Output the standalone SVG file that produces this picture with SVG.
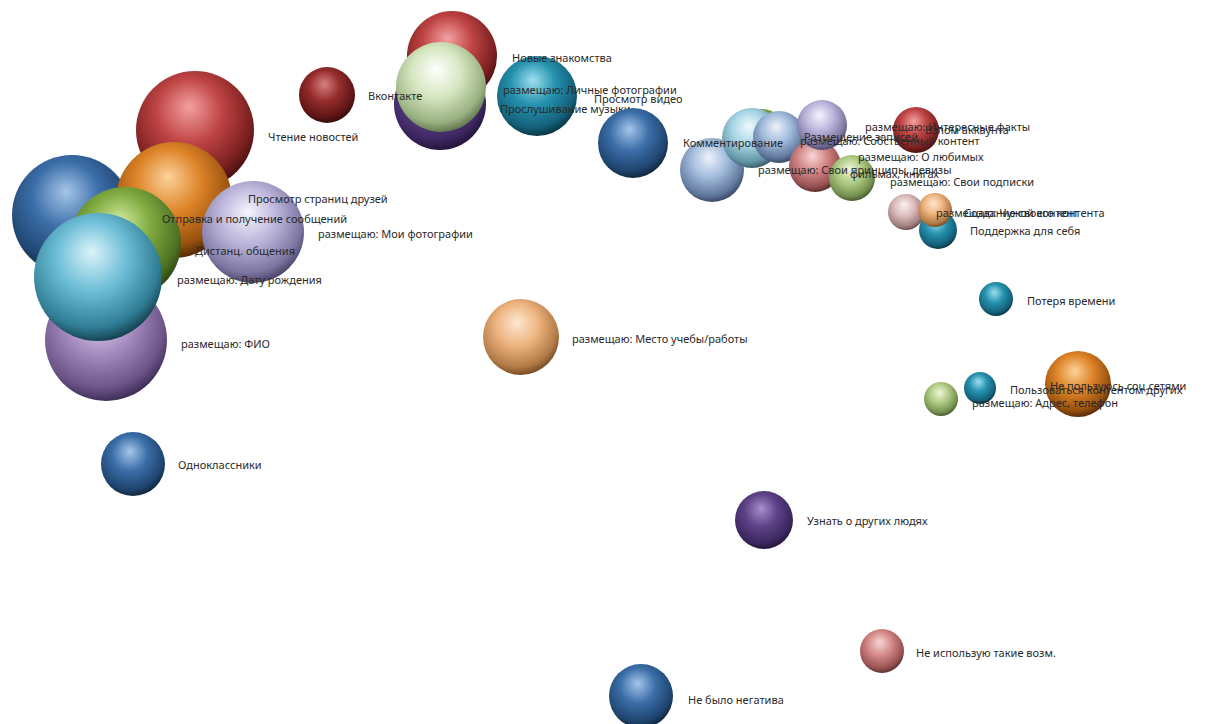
<svg xmlns="http://www.w3.org/2000/svg" width="1208" height="724" viewBox="0 0 1208 724">
<defs>
<radialGradient id="gRed" cx="0.45" cy="0.38" r="0.62" fx="0.45" fy="0.3"><stop offset="0" stop-color="#f4a0a0"/><stop offset="0.45" stop-color="#bf4444"/><stop offset="0.85" stop-color="#7a1f1f"/><stop offset="1" stop-color="#4a1010"/></radialGradient>
<radialGradient id="gDarkRed" cx="0.45" cy="0.38" r="0.62" fx="0.45" fy="0.3"><stop offset="0" stop-color="#d88080"/><stop offset="0.45" stop-color="#962c2c"/><stop offset="0.85" stop-color="#5e1616"/><stop offset="1" stop-color="#3a0a0a"/></radialGradient>
<radialGradient id="gBlue" cx="0.45" cy="0.38" r="0.62" fx="0.45" fy="0.3"><stop offset="0" stop-color="#a6c6ea"/><stop offset="0.45" stop-color="#3b6ea8"/><stop offset="0.85" stop-color="#1f4570"/><stop offset="1" stop-color="#12283f"/></radialGradient>
<radialGradient id="gOrange" cx="0.45" cy="0.38" r="0.62" fx="0.45" fy="0.3"><stop offset="0" stop-color="#fbd29a"/><stop offset="0.45" stop-color="#de8428"/><stop offset="0.85" stop-color="#9a520e"/><stop offset="1" stop-color="#5a2e06"/></radialGradient>
<radialGradient id="gGreen" cx="0.45" cy="0.38" r="0.62" fx="0.45" fy="0.3"><stop offset="0" stop-color="#d2eaa0"/><stop offset="0.45" stop-color="#80ab40"/><stop offset="0.85" stop-color="#4e7222"/><stop offset="1" stop-color="#2e4612"/></radialGradient>
<radialGradient id="gLav" cx="0.45" cy="0.38" r="0.62" fx="0.45" fy="0.3"><stop offset="0" stop-color="#f6f4fc"/><stop offset="0.45" stop-color="#bdb6dc"/><stop offset="0.85" stop-color="#7d76a2"/><stop offset="1" stop-color="#4e486e"/></radialGradient>
<radialGradient id="gCyan" cx="0.45" cy="0.38" r="0.62" fx="0.45" fy="0.3"><stop offset="0" stop-color="#dcf4fa"/><stop offset="0.45" stop-color="#6cbdd6"/><stop offset="0.85" stop-color="#307e96"/><stop offset="1" stop-color="#174555"/></radialGradient>
<radialGradient id="gPurple" cx="0.45" cy="0.38" r="0.62" fx="0.45" fy="0.3"><stop offset="0" stop-color="#e6dcf0"/><stop offset="0.45" stop-color="#a68cc0"/><stop offset="0.85" stop-color="#6c5388"/><stop offset="1" stop-color="#40305a"/></radialGradient>
<radialGradient id="gPaleGreen" cx="0.45" cy="0.38" r="0.62" fx="0.45" fy="0.3"><stop offset="0" stop-color="#ffffff"/><stop offset="0.45" stop-color="#d6e6c0"/><stop offset="0.85" stop-color="#98b080"/><stop offset="1" stop-color="#667a52"/></radialGradient>
<radialGradient id="gDarkPurple" cx="0.45" cy="0.38" r="0.62" fx="0.45" fy="0.3"><stop offset="0" stop-color="#a88fcc"/><stop offset="0.45" stop-color="#5f4288"/><stop offset="0.85" stop-color="#3c2760"/><stop offset="1" stop-color="#24163c"/></radialGradient>
<radialGradient id="gTeal" cx="0.45" cy="0.38" r="0.62" fx="0.45" fy="0.3"><stop offset="0" stop-color="#9ee0ef"/><stop offset="0.45" stop-color="#2592ae"/><stop offset="0.85" stop-color="#14607a"/><stop offset="1" stop-color="#0a3846"/></radialGradient>
<radialGradient id="gLightBlue" cx="0.45" cy="0.38" r="0.62" fx="0.45" fy="0.3"><stop offset="0" stop-color="#eef3fa"/><stop offset="0.45" stop-color="#a2bcdc"/><stop offset="0.85" stop-color="#62799e"/><stop offset="1" stop-color="#3c4c6a"/></radialGradient>
<radialGradient id="gLightCyan" cx="0.45" cy="0.38" r="0.62" fx="0.45" fy="0.3"><stop offset="0" stop-color="#f0fafd"/><stop offset="0.45" stop-color="#a8d6e6"/><stop offset="0.85" stop-color="#6496a8"/><stop offset="1" stop-color="#3c6070"/></radialGradient>
<radialGradient id="gPink" cx="0.45" cy="0.38" r="0.62" fx="0.45" fy="0.3"><stop offset="0" stop-color="#f8d6d6"/><stop offset="0.45" stop-color="#d48888"/><stop offset="0.85" stop-color="#985252"/><stop offset="1" stop-color="#603030"/></radialGradient>
<radialGradient id="gPinkPale" cx="0.45" cy="0.38" r="0.62" fx="0.45" fy="0.3"><stop offset="0" stop-color="#fbf2f2"/><stop offset="0.45" stop-color="#dcbcbc"/><stop offset="0.85" stop-color="#a08080"/><stop offset="1" stop-color="#6e5252"/></radialGradient>
<radialGradient id="gPeach" cx="0.45" cy="0.38" r="0.62" fx="0.45" fy="0.3"><stop offset="0" stop-color="#fde8d2"/><stop offset="0.45" stop-color="#eeb480"/><stop offset="0.85" stop-color="#b27a46"/><stop offset="1" stop-color="#7a4e26"/></radialGradient>
<radialGradient id="gLightGreen" cx="0.45" cy="0.38" r="0.62" fx="0.45" fy="0.3"><stop offset="0" stop-color="#eef6dc"/><stop offset="0.45" stop-color="#b0cc84"/><stop offset="0.85" stop-color="#749050"/><stop offset="1" stop-color="#4a5e30"/></radialGradient>
</defs>
<style>
text{font-family:"Noto Sans","Open Sans","DejaVu Sans",sans-serif;font-size:11px;fill:#2a2a2a}
</style>
<rect width="1208" height="724" fill="#ffffff"/>
<g id="connectors"/>

<g id="n-chtenie"><circle cx="195" cy="130" r="59" fill="url(#gRed)"/><text x="268" y="141">Чтение новостей</text></g>
<g id="n-bigblue"><circle cx="72" cy="215" r="60" fill="url(#gBlue)"/></g>
<g id="n-fio"><circle cx="106" cy="340" r="61" fill="url(#gPurple)"/><text x="181" y="348">размещаю: ФИО</text></g>
<g id="n-orange"><circle cx="174" cy="200" r="58" fill="url(#gOrange)"/></g>
<g id="n-druzey"><circle cx="253" cy="232" r="51" fill="url(#gLav)"/><text x="248" y="203">Просмотр страниц друзей</text><text x="318" y="238">размещаю: Мои фотографии</text></g>
<g id="n-green"><circle cx="125" cy="243" r="56" fill="url(#gGreen)"/><text x="162" y="223">Отправка и получение сообщений</text><text x="195" y="255">Дистанц. общения</text></g>
<g id="n-cyan"><circle cx="98" cy="277" r="64" fill="url(#gCyan)"/><text x="177" y="284">размещаю: Дату рождения</text></g>

<g id="n-red-top"><circle cx="452" cy="56" r="45" fill="url(#gRed)"/></g>
<g id="n-darkpurple"><circle cx="440" cy="104" r="46" fill="url(#gDarkPurple)"/></g>
<g id="n-palegreen"><circle cx="441" cy="87" r="45" fill="url(#gPaleGreen)"/></g>
<g id="n-vkontakte"><circle cx="327" cy="95" r="28" fill="url(#gDarkRed)"/><text x="368" y="100">Вконтакте</text></g>
<g id="n-muzyka"><circle cx="537" cy="96" r="40" fill="url(#gTeal)"/><text x="512" y="62">Новые знакомства</text><text x="503" y="94">размещаю: Личные фотографии</text><text x="594" y="103">Просмотр видео</text><text x="500" y="113">Прослушивание музыки</text></g>
<g id="n-video"><circle cx="633" cy="143" r="35" fill="url(#gBlue)"/></g>

<g id="n-greenback"><circle cx="762" cy="132" r="23" fill="url(#gGreen)"/></g>
<g id="n-komment"><circle cx="712" cy="170" r="32" fill="url(#gLightBlue)"/></g>
<g id="n-lightcyan"><circle cx="752" cy="138" r="30" fill="url(#gLightCyan)"/></g>
<g id="n-lavblue"><circle cx="779" cy="137" r="26" fill="url(#gLightBlue)"/></g>
<g id="n-pink"><circle cx="815" cy="166" r="26" fill="url(#gPink)"/></g>
<g id="n-lavender"><circle cx="822" cy="125" r="25" fill="url(#gLav)"/></g>
<g id="n-lightgreen"><circle cx="852" cy="178" r="23" fill="url(#gLightGreen)"/></g>
<g id="n-red2"><circle cx="916" cy="130" r="23" fill="url(#gRed)"/></g>
<g id="n-cluster-labels">
<text x="683" y="147">Комментирование</text>
<text x="865" y="131">размещаю: Интересные факты</text>
<text x="925" y="134">Взлом аккаунта</text>
<text x="804" y="141">Размещение записей</text>
<text x="800" y="145">размещаю: Собственный контент</text>
<text x="858" y="161">размещаю: О любимых</text>
<text x="758" y="174">размещаю: Свои принципы, девизы</text>
<text x="850" y="178">фильмах, книгах</text>
<text x="890" y="186">размещаю: Свои подписки</text>
</g>

<g id="n-pinkpale"><circle cx="906" cy="212" r="18" fill="url(#gPinkPale)"/></g>
<g id="n-podderzhka"><circle cx="938" cy="230" r="19" fill="url(#gTeal)"/><text x="970" y="235">Поддержка для себя</text></g>
<g id="n-peach"><circle cx="935" cy="210" r="17" fill="url(#gPeach)"/><text x="936" y="217">размещаю: Чужой контент</text><text x="964" y="217">Создание своего контента</text></g>

<g id="n-poterya"><circle cx="996" cy="299" r="17" fill="url(#gTeal)"/><text x="1027" y="305">Потеря времени</text></g>
<g id="n-lightgreen2"><circle cx="941" cy="399" r="17" fill="url(#gLightGreen)"/></g>
<g id="n-teal2"><circle cx="980" cy="388" r="16" fill="url(#gTeal)"/></g>
<g id="n-nepolzuyus"><circle cx="1078" cy="384" r="33" fill="url(#gOrange)"/><text x="1050" y="390">Не пользуюсь соц.сетями</text><text x="1010" y="394">Пользоваться контентом других</text><text x="972" y="407">размещаю: Адрес, телефон</text></g>

<g id="n-mesto"><circle cx="521" cy="337" r="38" fill="url(#gPeach)"/><text x="572" y="343">размещаю: Место учебы/работы</text></g>
<g id="n-odnoklassniki"><circle cx="133" cy="464" r="32" fill="url(#gBlue)"/><text x="178" y="469">Одноклассники</text></g>
<g id="n-uznat"><circle cx="764" cy="520" r="29" fill="url(#gDarkPurple)"/><text x="807" y="525">Узнать о других людях</text></g>
<g id="n-neispolzuyu"><circle cx="882" cy="651" r="22" fill="url(#gPink)"/><text x="916" y="657">Не использую такие возм.</text></g>
<g id="n-negativ"><circle cx="641" cy="696" r="32" fill="url(#gBlue)"/><text x="688" y="704">Не было негатива</text></g>
</svg>
